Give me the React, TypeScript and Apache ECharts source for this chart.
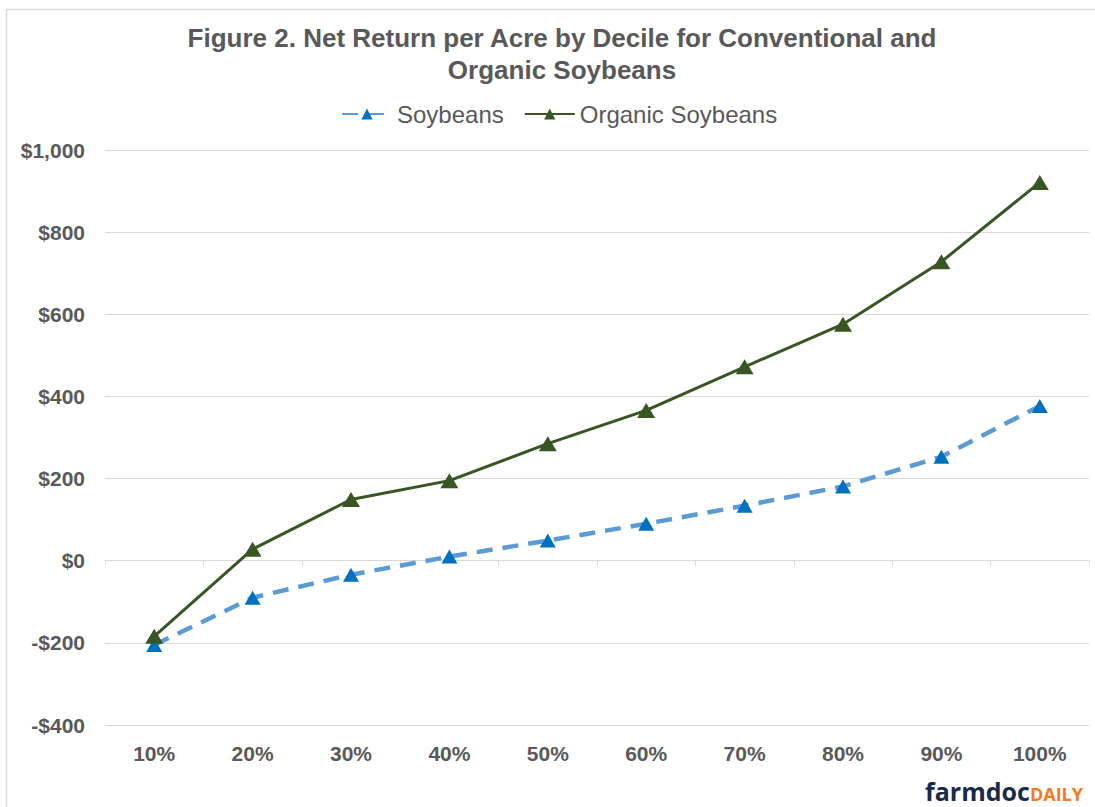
import React, { useEffect, useRef } from "react";
import * as echarts from "echarts";

const categories = ["10%", "20%", "30%", "40%", "50%", "60%", "70%", "80%", "90%", "100%"];
const soybeans = [-205, -90, -34, 10, 49, 90, 134, 181, 253, 377];
const organicSoybeans = [-184, 28, 149, 195, 285, 366, 472, 576, 728, 921];
const yTicks = { min: -400, max: 1000, interval: 200 };
const titleText = "Figure 2. Net Return per Acre by Decile for Conventional and\nOrganic Soybeans";

export default function App() {
  const ref = useRef<HTMLDivElement>(null);
  useEffect(() => {
    if (!ref.current) return;
    const chart = echarts.init(ref.current, null, { renderer: "svg" });
    const gray = "#595959";
    const gridColor = "#d9d9d9";
    const fmt = (v: number) => {
      const abs = Math.abs(v).toLocaleString("en-US");
      return (v < 0 ? "-$" : "$") + abs;
    };
    chart.setOption({
      animation: false,
      backgroundColor: "#ffffff",
      title: {
        text: titleText,
        left: 557,
        top: 17,
        textAlign: "center",
        textStyle: {
          fontFamily: "Liberation Sans, Arial, sans-serif",
          fontSize: 26,
          fontWeight: "bold",
          color: gray,
          lineHeight: 32,
        },
      },
      legend: {
        top: 97,
        left: 336,
        itemWidth: 50,
        itemHeight: 14,
        itemGap: 20,
        textStyle: {
          fontFamily: "Liberation Sans, Arial, sans-serif",
          fontSize: 24,
          color: gray,
        },
        data: ["Soybeans", "Organic Soybeans"],
      },
      grid: { left: 105, right: 6, top: 150, bottom: 82, containLabel: false },
      xAxis: [
        {
          type: "category",
          data: categories,
          position: "bottom",
          boundaryGap: true,
          axisLine: { show: true, onZero: true, lineStyle: { color: gridColor, width: 1 } },
          axisTick: { show: true, length: 5, lineStyle: { color: gridColor } },
          axisLabel: { show: false },
          splitLine: { show: false },
        },
        {
          type: "category",
          data: categories,
          position: "bottom",
          offset: 0,
          boundaryGap: true,
          axisLine: { show: false, onZero: false },
          axisTick: { show: false },
          axisLabel: {
            show: true,
            margin: 18,
            fontFamily: "Liberation Sans, Arial, sans-serif",
            fontSize: 21,
            fontWeight: "bold",
            color: gray,
          },
          splitLine: { show: false },
        },
      ],
      yAxis: {
        type: "value",
        min: yTicks.min,
        max: yTicks.max,
        interval: yTicks.interval,
        axisLine: { show: false },
        axisTick: { show: false },
        axisLabel: {
          margin: 20,
          formatter: fmt,
          fontFamily: "Liberation Sans, Arial, sans-serif",
          fontSize: 21,
          fontWeight: "bold",
          color: gray,
        },
        splitLine: { show: true, lineStyle: { color: gridColor, width: 1 } },
      },
      series: [
        {
          name: "Soybeans",
          type: "line",
          xAxisIndex: 0,
          data: soybeans,
          symbol: "triangle",
          symbolSize: [16, 14],
          showAllSymbol: true,
          color: "#0070c0",
          itemStyle: { color: "#0070c0" },
          lineStyle: { color: "#5b9bd5", width: 4.5, type: [16, 10] },
        },
        {
          name: "Organic Soybeans",
          type: "line",
          xAxisIndex: 0,
          data: organicSoybeans,
          symbol: "triangle",
          symbolSize: [18, 15],
          showAllSymbol: true,
          color: "#375623",
          itemStyle: { color: "#375623" },
          lineStyle: { color: "#375623", width: 3 },
        },
      ],
      graphic: [
        {
          type: "rect",
          silent: true,
          shape: { x: 6.5, y: 9.5, width: 1200, height: 900 },
          style: { fill: "none", stroke: "#d9d9d9", lineWidth: 1.5 },
        },
        {
          type: "text",
          x: 1083,
          y: 791,
          style: {
            text: "{a|farmdoc}{b|DAILY}",
            align: "right",
            verticalAlign: "middle",
            rich: {
              a: {
                fontFamily: "Open Sans, Lato, sans-serif",
                fontSize: 25,
                fontWeight: "bold",
                fill: "#1b2a4a",
              },
              b: {
                fontFamily: "Open Sans, Lato, sans-serif",
                fontSize: 18,
                fontWeight: "bold",
                fill: "#f47920",
                padding: [5, 0, 0, 0],
              },
            },
          },
        },
      ],
    });
    return () => chart.dispose();
  }, []);
  return (
    <div
      ref={ref}
      style={{ position: "fixed", left: 0, top: 0, width: 1095, height: 807, background: "#fff" }}
    />
  );
}
